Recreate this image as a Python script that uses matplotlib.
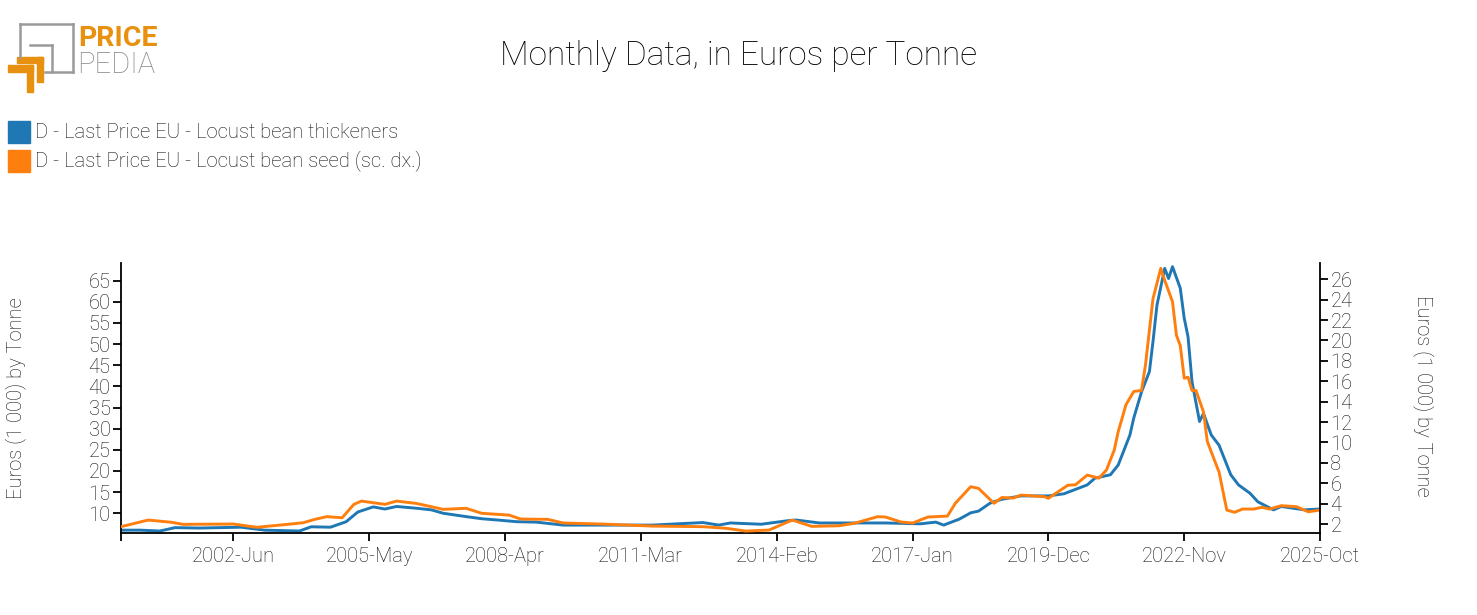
import matplotlib
matplotlib.use("Agg")
import matplotlib.pyplot as plt
from matplotlib.patches import Rectangle
from matplotlib.lines import Line2D
import pandas as pd

# ---------------- data ----------------
thick_dates = ["2000-01", "2000-06", "2000-11", "2001-03", "2001-09", "2002-08", "2003-02",
               "2003-11", "2004-02", "2004-07", "2004-11", "2005-02", "2005-06", "2005-09",
               "2005-12", "2006-05", "2006-09", "2006-12", "2007-06", "2007-10", "2008-02",
               "2008-07", "2008-12", "2009-07", "2010-05", "2011-06", "2012-07", "2012-11",
               "2013-02", "2013-10", "2014-05", "2014-07", "2015-01", "2015-10", "2016-06",
               "2017-03", "2017-07", "2017-09", "2018-01", "2018-04", "2018-06", "2018-09",
               "2018-12", "2019-05", "2019-12", "2020-04", "2020-06", "2020-10", "2020-12",
               "2021-04", "2021-06", "2021-09", "2021-10", "2021-12", "2022-02", "2022-03",
               "2022-04", "2022-06", "2022-07", "2022-08", "2022-10", "2022-11", "2022-12",
               "2023-01", "2023-03", "2023-04", "2023-06", "2023-08", "2023-11", "2024-01",
               "2024-04", "2024-06", "2024-10", "2024-12", "2025-06", "2025-10"]
thick_vals = [6.0, 6.0, 5.8, 6.6, 6.5, 6.7, 6.0,
              5.8, 6.8, 6.7, 8.0, 10.3, 11.5, 11.0,
              11.6, 11.2, 10.8, 10.0, 9.2, 8.7, 8.4,
              8.0, 7.9, 7.2, 7.2, 7.2, 7.8, 7.2,
              7.7, 7.4, 8.25, 8.4, 7.7, 7.7, 7.7,
              7.5, 7.9, 7.2, 8.6, 10.1, 10.5, 12.4,
              13.3, 14.1, 14.1, 14.6, 15.3, 16.7, 18.3,
              19.1, 21.4, 28.5, 32.5, 38.7, 43.5, 50.6,
              59.2, 67.9, 65.5, 68.3, 63.2, 56.1, 51.7,
              41.1, 31.7, 33.6, 28.5, 26.1, 19.1, 16.7,
              14.7, 12.7, 10.8, 11.6, 10.8, 11.0]

seed_dates = ["2000-01", "2000-08", "2001-02", "2001-05", "2002-06", "2002-12", "2003-08",
              "2003-12", "2004-03", "2004-06", "2004-10", "2005-01", "2005-03", "2005-09",
              "2005-12", "2006-05", "2006-09", "2006-12", "2007-06", "2007-10", "2008-05",
              "2008-08", "2009-03", "2009-07", "2010-05", "2011-06", "2012-07", "2013-01",
              "2013-06", "2013-12", "2014-06", "2014-11", "2015-06", "2015-10", "2016-04",
              "2016-06", "2016-10", "2017-01", "2017-05", "2017-10", "2017-12", "2018-04",
              "2018-06", "2018-10", "2018-12", "2019-03", "2019-05", "2019-11", "2019-12",
              "2020-05", "2020-07", "2020-10", "2021-01", "2021-03", "2021-05", "2021-06",
              "2021-08", "2021-10", "2021-12", "2022-01", "2022-03", "2022-05", "2022-06",
              "2022-08", "2022-09", "2022-10", "2022-11", "2022-12", "2023-01", "2023-02",
              "2023-04", "2023-05", "2023-07", "2023-08", "2023-10", "2023-12", "2024-02",
              "2024-05", "2024-07", "2024-09", "2024-12", "2025-04", "2025-07", "2025-10"]
seed_vals = [1.74, 2.39, 2.17, 1.97, 2.0, 1.68, 1.97,
             2.13, 2.46, 2.72, 2.62, 3.93, 4.25, 3.93,
             4.25, 4.03, 3.70, 3.44, 3.54, 3.05, 2.88,
             2.49, 2.46, 2.1, 2.0, 1.8, 1.74, 1.58,
             1.31, 1.41, 2.39, 1.77, 1.83, 2.07, 2.72,
             2.69, 2.2, 2.1, 2.69, 2.78, 4.03, 5.66,
             5.5, 4.03, 4.6, 4.55, 4.84, 4.68, 4.52,
             5.8, 5.85, 6.8, 6.5, 7.3, 9.25, 11.05,
             13.7, 15.0, 15.1, 17.6, 24.1, 27.07, 25.9,
             23.8, 20.5, 19.5, 16.3, 16.4, 15.1, 15.1,
             13.0, 10.1, 8.1, 7.1, 3.37, 3.15, 3.47,
             3.47, 3.64, 3.47, 3.8, 3.7, 3.2, 3.37]

tick_dates = ["2000-01", "2002-06", "2005-05", "2008-04", "2011-03", "2014-02",
              "2017-01", "2019-12", "2022-11", "2025-10"]
tick_labels = ["", "2002-Jun", "2005-May", "2008-Apr", "2011-Mar", "2014-Feb",
               "2017-Jan", "2019-Dec", "2022-Nov", "2025-Oct"]
left_ticks = [10, 15, 20, 25, 30, 35, 40, 45, 50, 55, 60, 65]
right_ticks = [2, 4, 6, 8, 10, 12, 14, 16, 18, 20, 22, 24, 26]

title = "Monthly Data, in Euros per Tonne"
name_thick = "D - Last Price EU - Locust bean thickeners"
name_seed = "D - Last Price EU - Locust bean seed (sc. dx.)"
ylabel = "Euros (1 000) by Tonne"

BLUE = "#1f77b4"
ORANGE = "#ff7f0e"
LOGO_OR = "#E8900F"
LOGO_GR = "#9a9a9a"
TXT = "#111111"

# ---------------- figure ----------------
plt.rcParams['font.family'] = ['Roboto', 'DejaVu Sans']
W, H = 1477, 615
fig = plt.figure(figsize=(W / 100, H / 100), dpi=100)


def fx(x):
    return x / W


def fy(y):
    return 1 - y / H


ax = fig.add_axes([fx(121), fy(532.7), fx(1320) - fx(121), fy(263.3) - fy(532.7)])
ax2 = ax.twinx()

td = pd.to_datetime(thick_dates)
sd = pd.to_datetime(seed_dates)
ax.plot(td, thick_vals, color=BLUE, lw=2.1, solid_joinstyle='round')
ax2.plot(sd, seed_vals, color=ORANGE, lw=2.1, solid_joinstyle='round')

ax.set_xlim(pd.Timestamp("2000-01-01"), pd.Timestamp("2025-10-01"))
ax.set_ylim(5.4, 69.1)
ax2.set_ylim(1.15, 27.57)

ax.set_xticks(pd.to_datetime(tick_dates))
ax.set_xticklabels(tick_labels)
ax.set_yticks(left_ticks)
ax2.set_yticks(right_ticks)

for s in ["top", "right"]:
    ax.spines[s].set_visible(False)
for s in ["top", "left", "bottom"]:
    ax2.spines[s].set_visible(False)
for a in (ax, ax2):
    for s in a.spines.values():
        s.set_linewidth(1.3)
        s.set_color("black")
    a.tick_params(direction='out', length=6, width=1.3, colors='black', labelsize=14.5,
                  pad=1.5, labelcolor=TXT)
    for lbl in a.get_xticklabels() + a.get_yticklabels():
        lbl.set_fontweight('light')
ax.tick_params(axis='x', pad=4)

fig.text(fx(16), fy(398), ylabel, rotation=90, ha='center', va='center',
         fontsize=14.5, fontweight='light', color=TXT)
fig.text(fx(1423), fy(396), ylabel, rotation=-90, ha='center', va='center',
         fontsize=14.5, fontweight='light', color=TXT)

fig.text(fx(738), fy(56), title, ha='center', va='center', fontsize=24, fontweight='light',
         color='black')

# legend
for i, (c, n) in enumerate([(BLUE, name_thick), (ORANGE, name_seed)]):
    yc = 132 + i * 29
    fig.patches.append(Rectangle((fx(8), fy(yc + 11)), fx(22), fy(0) - fy(22), color=c,
                                 transform=fig.transFigure))
    fig.text(fx(35), fy(yc), n, ha='left', va='center', fontsize=14.6, fontweight='light',
             color=TXT)

# logo
def seg(x0, y0, x1, y1, c, lw):
    fig.add_artist(Line2D([fx(x0), fx(x1)], [fy(y0), fy(y1)], color=c, lw=lw,
                          transform=fig.transFigure, solid_capstyle='projecting'))

seg(20, 24, 73, 24, LOGO_GR, 1.8)
seg(73, 24, 73, 72, LOGO_GR, 1.8)
seg(45, 72, 73, 72, LOGO_GR, 1.8)
seg(20, 24, 20, 57, LOGO_GR, 1.8)
seg(30, 45, 52, 45, LOGO_GR, 1.8)
seg(52, 45, 52, 72, LOGO_GR, 1.8)


def rect(x, y, w, h, c):
    fig.patches.append(Rectangle((fx(x), fy(y + h)), fx(w), fy(0) - fy(h), color=c,
                                 transform=fig.transFigure))

rect(17, 57, 26, 6, LOGO_OR)
rect(37, 57, 6, 25, LOGO_OR)
rect(8, 65, 25, 7, LOGO_OR)
rect(27, 65, 6, 27, LOGO_OR)

fig.text(fx(78), fy(39), "PRICE", ha='left', va='center', fontsize=20.5, fontweight='bold',
         color=LOGO_OR)
fig.text(fx(77), fy(65), "PEDIA", ha='left', va='center', fontsize=21, fontweight='light',
         color="#8a8a8a")

fig.savefig("out.png", dpi=100)
